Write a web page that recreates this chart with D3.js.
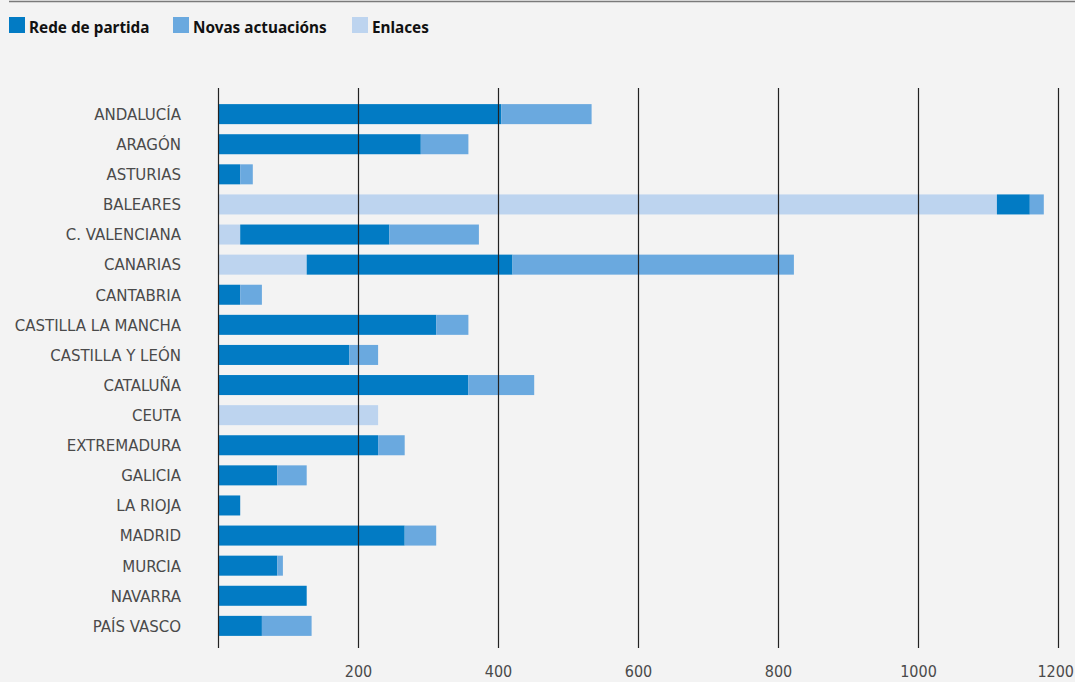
<!DOCTYPE html>
<html>
<head>
<meta charset="utf-8">
<script src="https://cdn.jsdelivr.net/npm/d3@7"></script>
<style>
  body { margin: 0; background: #f3f3f3; }
  svg { display: block; }
  .lbl { font-family: "Liberation Sans Narrow", "DejaVu Sans Condensed", "Roboto", sans-serif; }
  .leg { font-family: "Noto Sans", "Open Sans", sans-serif; font-weight: 700; }
</style>
</head>
<body>
<svg width="1075" height="682"></svg>
<script>
const regions = ["ANDALUCÍA", "ARAGÓN", "ASTURIAS", "BALEARES", "C. VALENCIANA", "CANARIAS",
  "CANTABRIA", "CASTILLA LA MANCHA", "CASTILLA Y LEÓN", "CATALUÑA", "CEUTA", "EXTREMADURA",
  "GALICIA", "LA RIOJA", "MADRID", "MURCIA", "NAVARRA", "PAÍS VASCO"];
const enlaces = [0, 0, 0, 1112, 31, 126, 0, 0, 0, 0, 228, 0, 0, 0, 0, 0, 0, 0];
const redePartida = [404, 289, 31, 47, 213, 294, 31, 311, 187, 357, 0, 228, 84, 31, 266, 84, 126, 62];
const novasActuacions = [129, 68, 18, 20, 128, 402, 31, 46, 41, 94, 0, 38, 42, 0, 45, 8, 0, 71];
const ticks = [200, 400, 600, 800, 1000, 1200];

const seriesNames = ["Rede de partida", "Novas actuacións", "Enlaces"];
const colors = {"Enlaces": "#bdd4ef", "Rede de partida": "#027bc4", "Novas actuacións": "#6aa9df"};

const rows = regions.map((r, i) => ({
  region: r,
  "Enlaces": enlaces[i],
  "Rede de partida": redePartida[i],
  "Novas actuacións": novasActuacions[i]
}));

const svg = d3.select("svg");

// top rule
svg.append("line")
  .attr("x1", 9).attr("x2", 1075)
  .attr("y1", 1.5).attr("y2", 1.5)
  .attr("stroke", "#7a7a7a").attr("stroke-width", 1.5);

const x = d3.scaleLinear().domain([0, 1200]).range([218.5, 1058.5]);
const y = d3.scaleBand().domain(regions).range([99, 641]).paddingInner(0.335).paddingOuter(0.17);

// bars first, grid lines drawn over them
const stack = d3.stack().keys(["Enlaces", "Rede de partida", "Novas actuacións"]);
const layers = stack(rows);

svg.append("g")
  .selectAll("g")
  .data(layers)
  .join("g")
  .attr("fill", d => colors[d.key])
  .selectAll("rect")
  .data(d => d)
  .join("rect")
  .attr("x", d => x(d[0]))
  .attr("y", d => y(d.data.region))
  .attr("width", d => x(d[1]) - x(d[0]))
  .attr("height", y.bandwidth());

svg.append("g")
  .selectAll("line")
  .data([0, ...ticks])
  .join("line")
  .attr("x1", d => x(d)).attr("x2", d => x(d))
  .attr("y1", 88).attr("y2", 648)
  .attr("stroke", "#222").attr("stroke-width", 1.2);

// tick labels, last one kept inside the frame
svg.append("g")
  .selectAll("text")
  .data(ticks)
  .join("text")
  .attr("class", "lbl")
  .attr("y", 677)
  .attr("text-anchor", "middle")
  .attr("font-size", 16)
  .attr("fill", "#4a4a4a")
  .text(d => d)
  .attr("x", function(d) {
    const w = this.getComputedTextLength();
    return Math.min(x(d), 1074 - w / 2);
  });

// category labels
svg.append("g")
  .selectAll("text")
  .data(regions)
  .join("text")
  .attr("class", "lbl")
  .attr("x", 181)
  .attr("y", d => y(d) + y.bandwidth() / 2)
  .attr("dy", "0.35em")
  .attr("text-anchor", "end")
  .attr("font-size", 16.7)
  .attr("fill", "#4a4a4a")
  .text(d => d);

// legend
const legendX = [9, 173, 352];
const legend = svg.append("g")
  .selectAll("g")
  .data(seriesNames)
  .join("g")
  .attr("transform", (d, i) => `translate(${legendX[i]},17)`);
legend.append("rect")
  .attr("width", 16).attr("height", 16)
  .attr("fill", d => colors[d]);
legend.append("text")
  .attr("class", "leg")
  .attr("x", 20).attr("y", 15.5)
  .attr("font-size", 15.3)
  .attr("fill", "#111")
  .text(d => d);
</script>
</body>
</html>
